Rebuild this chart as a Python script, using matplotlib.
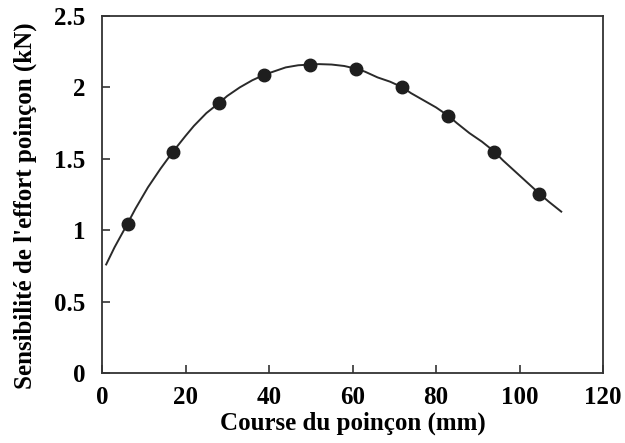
import numpy as np
import matplotlib.pyplot as plt

# points mesures
course = [6.2, 17.0, 28.0, 38.9, 49.8, 60.8, 71.8, 82.9, 93.9, 104.7]
sensib = [1.04, 1.55, 1.89, 2.09, 2.16, 2.13, 2.00, 1.80, 1.55, 1.25]

# courbe lissee
courbe_x = [1, 3, 6, 8, 11, 14, 17, 20, 22, 25, 28, 30, 33, 36, 39, 42, 44, 47, 50, 52, 55,
            58, 61, 63, 66, 69, 72, 74, 77, 80, 83, 85, 88, 91, 94, 96, 99, 102, 105, 107, 110]
courbe_y = [0.76, 0.88, 1.04, 1.15, 1.30, 1.43, 1.55, 1.66, 1.73, 1.82, 1.89, 1.94, 2.00,
            2.05, 2.09, 2.12, 2.14, 2.155, 2.16, 2.163, 2.16, 2.15, 2.13, 2.11, 2.07, 2.04,
            2.00, 1.96, 1.91, 1.86, 1.80, 1.75, 1.68, 1.62, 1.55, 1.49, 1.41, 1.33, 1.25,
            1.20, 1.13]

plt.rcParams['font.family'] = ['Liberation Serif', 'DejaVu Serif']
plt.rcParams['font.weight'] = 'bold'

fig = plt.figure(figsize=(6.25, 4.43), dpi=100)
ax = fig.add_axes([0.1632, 0.158, 0.8016, 0.8059])

ax.plot(courbe_x, courbe_y, color='#2a2a2a', lw=1.4)
ax.plot(course, sensib, 'o', color='#1e1e1e', ms=9)

ax.set_xlim(0, 120)
ax.set_ylim(0, 2.5)
ax.set_xticks([0, 20, 40, 60, 80, 100, 120])
ax.set_yticks([0, 0.5, 1, 1.5, 2, 2.5])
ax.set_yticklabels(['0', '0.5', '1', '1.5', '2', '2.5'])
ax.tick_params(direction='in', length=6, width=1.2, labelsize=18, color='#333333')
ax.tick_params(axis='x', pad=9)
ax.tick_params(axis='y', pad=12)
for s in ax.spines.values():
    s.set_linewidth(1.3)
    s.set_color('#333333')

ax.set_xlabel("Course du poinçon (mm)", fontsize=18, fontweight='bold', labelpad=2)
ax.set_ylabel("Sensibilité de l'effort poinçon (kN)", fontsize=18, fontweight='bold')
ax.yaxis.set_label_coords(-0.13, 0.468)

fig.savefig('out.png', dpi=100)
